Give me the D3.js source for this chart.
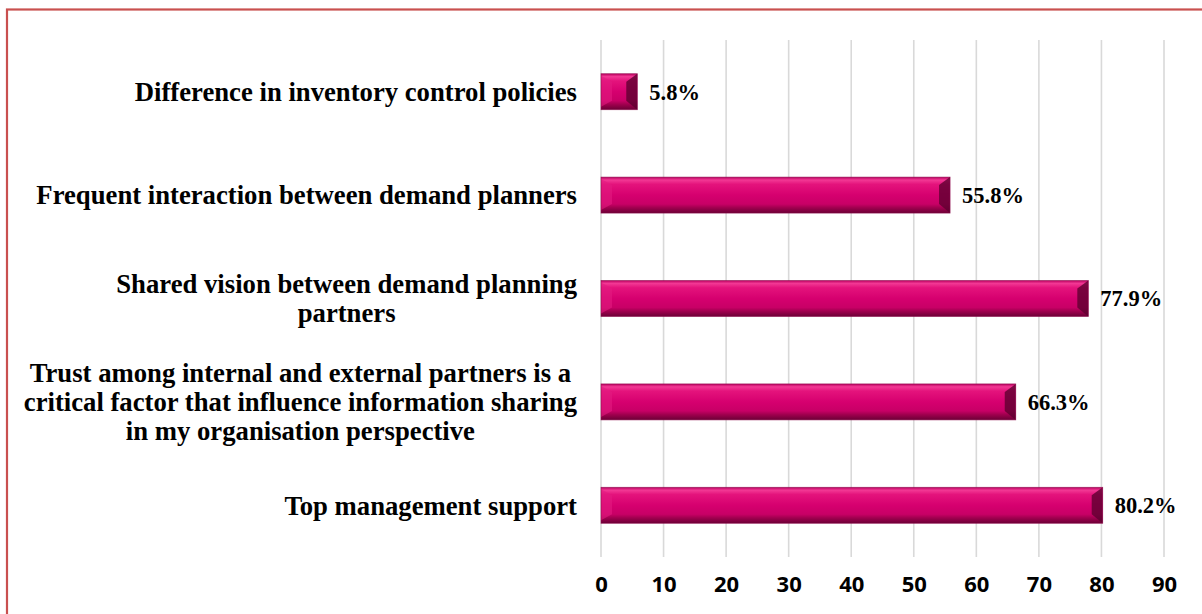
<!DOCTYPE html>
<html>
<head>
<meta charset="utf-8">
<script src="https://cdn.jsdelivr.net/npm/d3@7"></script>
<style>
  html, body { margin: 0; padding: 0; background: #fff; }
  svg { display: block; }
</style>
</head>
<body>
<svg id="chart" width="1202" height="614"></svg>
<script>
// Survey factors (top to bottom) and share of respondents (%)
const categories = [
  ["Difference in inventory control policies"],
  ["Frequent interaction between demand planners"],
  ["Shared vision between demand planning", "partners"],
  ["Trust among internal and external partners is a", "critical factor that influence information sharing", "in my organisation perspective"],
  ["Top management support"]
];
const values = [5.8, 55.8, 77.9, 66.3, 80.2];
const xTicks = [0, 10, 20, 30, 40, 50, 60, 70, 80, 90];

const svg = d3.select("#chart");
const W = 1202, H = 614;
const plot = { left: 601, right: 1164, top: 40, bottom: 557 };

// Frame
svg.append("rect")
  .attr("x", 7).attr("y", 9.5)
  .attr("width", W + 20).attr("height", H + 20)
  .attr("fill", "none").attr("stroke", "#c9504f").attr("stroke-width", 2.2);

const x = d3.scaleLinear().domain([0, 90]).range([plot.left, plot.right]);
const y = d3.scaleBand().domain(d3.range(values.length)).range([plot.top, plot.bottom]).paddingInner(0.652).paddingOuter(0.326);

// Vertical gridlines
svg.append("g").selectAll("line").data(xTicks).join("line")
  .attr("x1", d => x(d)).attr("x2", d => x(d))
  .attr("y1", plot.top).attr("y2", plot.bottom)
  .attr("stroke", "#d9d9d9").attr("stroke-width", 1.6);

// X axis tick labels
const xAxis = d3.axisBottom(x).tickValues(xTicks).tickSize(0).tickPadding(0);
const gx = svg.append("g").attr("transform", `translate(0,${584})`).call(xAxis);
gx.select(".domain").remove();
gx.selectAll("text")
  .attr("dy", "0.35em")
  .attr("font-family", "'Open Sans', 'Liberation Sans', sans-serif")
  .attr("font-weight", "bold").attr("font-size", 22).attr("fill", "#000");

// Bevelled bar gradients
const defs = svg.append("defs");
const face = defs.append("linearGradient").attr("id", "face").attr("x1", 0).attr("y1", 0).attr("x2", 0).attr("y2", 1);
[[0, "#b8005e"], [0.08, "#f23894"], [0.2, "#e4137c"], [0.5, "#d6006f"], [0.75, "#c80066"], [0.85, "#a1004f"], [1, "#6c0036"]]
  .forEach(([o, c]) => face.append("stop").attr("offset", o).attr("stop-color", c));

const bars = svg.append("g").selectAll("g").data(values).join("g");
const bh = y.bandwidth();
const bev = 7;

bars.each(function(v, i) {
  const g = d3.select(this);
  const x0 = x(0), x1 = x(v), y0 = y(i), y1 = y0 + bh;
  const b = Math.min(bev, (x1 - x0) / 2);
  g.append("rect").attr("x", x0).attr("y", y0).attr("width", x1 - x0).attr("height", bh)
    .attr("fill", "url(#face)");
  // left chamfer (lit)
  g.append("path")
    .attr("d", `M${x0},${y0 + 2}L${x0 + b + 4},${y0 + b + 1}L${x0 + b + 4},${y1 - b - 2}L${x0},${y1 - 3}Z`)
    .attr("fill", "#e21a80").attr("opacity", 0.6);
  // right chamfer (shadowed)
  g.append("path")
    .attr("d", `M${x1},${y0}L${x1 - b - 4},${y0 + b + 1}L${x1 - b - 4},${y1 - b - 2}L${x1},${y1}Z`)
    .attr("fill", "#5e0030").attr("opacity", 0.8);
  g.append("rect").attr("x", x0).attr("y", y0).attr("width", x1 - x0).attr("height", bh)
    .attr("fill", "none").attr("stroke", "#8d0a4c").attr("stroke-width", 0.8).attr("opacity", 0.7);
});

// Value labels
svg.append("g").selectAll("text").data(values).join("text")
  .attr("x", d => x(d) + 12)
  .attr("y", (d, i) => y(i) + bh / 2)
  .attr("dy", "0.35em")
  .attr("font-family", "'Liberation Serif', 'Times New Roman', serif")
  .attr("font-weight", "bold").attr("font-size", 22.5).attr("fill", "#000")
  .text(d => d.toFixed(1) + "%");

// Category labels (centred lines, right edge aligned next to the axis)
const lineH = 29;
const labelRight = 577;
const catG = svg.append("g");
categories.forEach((lines, i) => {
  const t = catG.append("text")
    .attr("font-family", "'Liberation Serif', 'Times New Roman', serif")
    .attr("font-weight", "bold").attr("font-size", 26.7).attr("fill", "#000")
    .attr("text-anchor", "middle");
  const cy = y(i) + bh / 2;
  const startY = cy - (lines.length - 1) * lineH / 2;
  const spans = lines.map((ln, k) => t.append("tspan").attr("y", startY + k * lineH).attr("dy", "0.35em").text(ln));
  const maxW = d3.max(spans, s => s.node().getComputedTextLength());
  spans.forEach(s => s.attr("x", labelRight - maxW / 2));
});
</script>
</body>
</html>
